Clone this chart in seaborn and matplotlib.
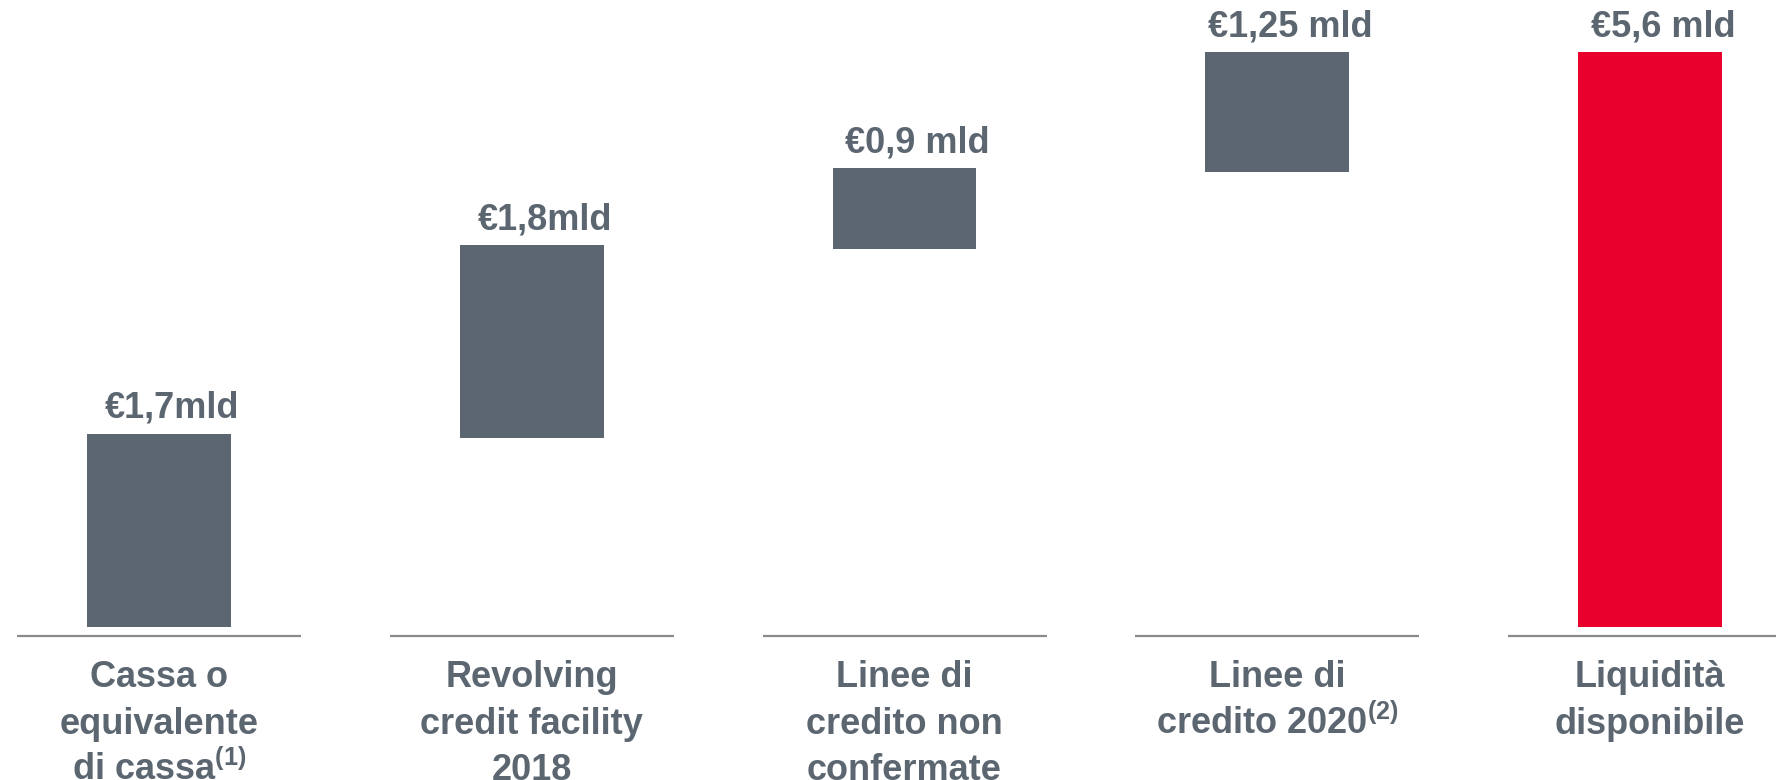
import matplotlib
matplotlib.use("Agg")
import matplotlib.pyplot as plt
import seaborn as sns
import numpy as np
import pandas as pd

# ---- data ----
categories = [
    "Cassa o\nequivalente\ndi cassa$^{(1)}$",
    "Revolving\ncredit facility\n2018",
    "Linee di\ncredito non\nconfermate",
    "Linee di\ncredito 2020$^{(2)}$",
    "Liquidità\ndisponibile",
]
value_labels = ["€1,7mld", "€1,8mld", "€0,9 mld", "€1,25 mld", "€5,6 mld"]
bar_bottom = [0.0, 1.84, 3.68, 4.43, 0.0]
bar_top = [1.88, 3.72, 4.47, 5.60, 5.60]

GREY = "#5b6670"
RED = "#ea002c"
TEXT = "#5b6670"
LINE = "#8a8a8a"

sns.set_theme(style="white")
plt.rcParams["font.family"] = ["Liberation Sans", "DejaVu Sans"]
plt.rcParams["font.weight"] = "bold"
plt.rcParams["mathtext.fontset"] = "custom"
plt.rcParams["mathtext.rm"] = "Liberation Sans:bold"
plt.rcParams["mathtext.it"] = "Liberation Sans:bold"
plt.rcParams["mathtext.bf"] = "Liberation Sans:bold"

W, H = 1776, 780
fig = plt.figure(figsize=(W / 100, H / 100), dpi=100)
ax = fig.add_axes([0, 0, 1, 1])

# pixel geometry of the reference
base_px = 627.0
top_px = 52.0
ppu = (base_px - top_px) / 5.6          # pixels per value unit
ymin = -(H - base_px) / ppu
ymax = 5.6 + top_px / ppu
spacing = 372.75
x0 = 159.0
xmin = -x0 / spacing
xmax = (W - x0) / spacing


def py(px_from_top):
    return (base_px - px_from_top) / ppu


df = pd.DataFrame({
    "cat": [str(i) for i in range(len(categories))],
    "height": np.array(bar_top) - np.array(bar_bottom),
})

sns.barplot(data=df, x="cat", y="height", bottom=bar_bottom, color=GREY,
            width=0.386, linewidth=0, saturation=1, ax=ax)
ax.patches[-1].set_facecolor(RED)

ax.set_xlim(xmin, xmax)
ax.set_ylim(ymin, ymax)
ax.axis("off")

fs = 26
half = 142 / spacing
for i, (cat, lab) in enumerate(zip(categories, value_labels)):
    # baseline segment under each bar
    ax.plot([i - half, i + half], [py(636), py(636)], color=LINE, lw=1.6,
            solid_capstyle="butt")
    # value label above the bar
    ax.text(i + 13 / spacing, bar_top[i] + 16 / ppu, lab, ha="center",
            va="baseline", fontsize=fs, fontweight="bold", color=TEXT)
    # category label lines
    for k, line in enumerate(cat.split("\n")):
        ax.text(i, py(687 + 46.5 * k), line, ha="center", va="baseline",
                fontsize=fs, fontweight="bold", color=TEXT)

fig.savefig("out.png", dpi=100)
